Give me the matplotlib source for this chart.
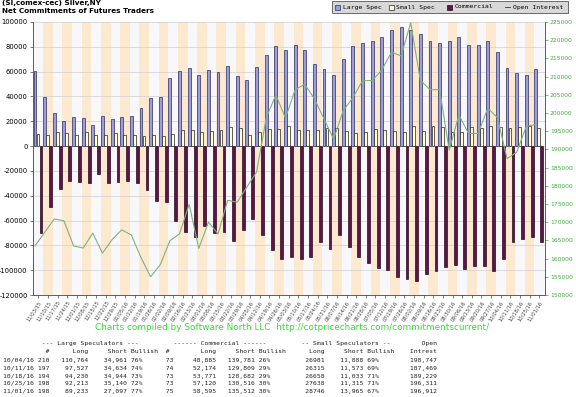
import numpy as np
import matplotlib
matplotlib.use("Agg")
import matplotlib.pyplot as plt
from matplotlib.patches import Rectangle
from matplotlib.lines import Line2D


# =========================
# DATA
# =========================
DATES = [
    "11/03/15", "11/10/15", "11/17/15", "11/24/15", "12/01/15", "12/08/15",
    "12/15/15", "12/22/15", "12/29/15", "01/05/16", "01/12/16", "01/19/16",
    "01/26/16", "02/02/16", "02/09/16", "02/16/16", "02/23/16", "03/01/16",
    "03/08/16", "03/15/16", "03/22/16", "03/29/16", "04/05/16", "04/12/16",
    "04/19/16", "04/26/16", "05/03/16", "05/10/16", "05/17/16", "05/24/16",
    "05/31/16", "06/07/16", "06/14/16", "06/21/16", "06/28/16", "07/05/16",
    "07/12/16", "07/19/16", "07/26/16", "08/02/16", "08/09/16", "08/16/16",
    "08/23/16", "08/30/16", "09/06/16", "09/13/16", "09/20/16", "09/27/16",
    "10/04/16", "10/11/16", "10/18/16", "10/25/16", "11/01/16",
]

LARGE_SPEC = [
    60500, 39500, 26800, 20600, 23300, 22800, 16800, 24600, 22200, 23300,
    23900, 30400, 39100, 39900, 54500, 60200, 63300, 57100, 61600, 59800,
    64700, 56100, 53300, 63600, 73100, 80400, 77200, 81500, 77500, 66000,
    62500, 57400, 70400, 80400, 83300, 84700, 87600, 93300, 96200, 93300,
    90500, 84700, 83300, 84700, 87600, 81800, 81800, 84700, 75803, 62893,
    59286, 57073, 62136,
]

SMALL_SPEC = [
    9500, 9000, 11400, 10600, 9200, 11400, 9200, 9200, 10600, 8600,
    9200, 8100, 8600, 8100, 10000, 12800, 13200, 11100, 12300, 13200,
    15600, 14800, 8900, 11100, 13900, 13900, 15900, 12800, 13100, 13100,
    14900, 14900, 12200, 10400, 11700, 13600, 13100, 12200, 11400, 16100,
    12200, 16100, 15500, 11700, 11700, 15500, 14200, 16300, 15093, 14742,
    15625, 16323, 14781,
]

COMMERCIAL = [
    -70000, -49100, -34700, -28200, -29000, -30100, -22800, -30100, -29000, -28200,
    -29600, -35500, -44200, -45000, -60700, -69600, -73500, -64500, -70200, -69400,
    -76100, -67500, -58800, -71800, -83500, -91000, -89700, -91000, -89700, -77500,
    -82900, -71300, -81600, -89700, -94600, -98300, -100000, -105400, -106800, -108700,
    -103200, -100500, -97800, -95700, -99200, -96500, -96500, -100500, -90896, -77635,
    -74911, -73396, -76917,
]

OPEN_INTEREST = [
    163500, 167200, 170900, 170400, 163500, 162900, 167000, 161500, 165200, 167900,
    166500, 160300, 155000, 158300, 164900, 166800, 174900, 162800, 170000, 166800,
    176000, 175500, 179700, 183800, 198600, 205000, 198600, 206400, 207900, 203900,
    198400, 192800, 200700, 204200, 208900, 208900, 211800, 216700, 215700, 224800,
    209000, 206400, 206400, 189800, 199500, 194400, 194400, 201300, 198747, 187469,
    189229, 196311, 196912,
]

# table under the chart
TABLE_DATES = ["10/04/16", "10/11/16", "10/18/16", "10/25/16", "11/01/16"]
LS_TRADERS = [210, 197, 194, 198, 198]
LS_LONG = [110764, 97527, 94230, 92213, 89233]
LS_SHORT = [34961, 34634, 34944, 35140, 27097]
LS_BULL = [76, 74, 73, 72, 77]
COMM_TRADERS = [73, 74, 73, 73, 75]
COMM_LONG = [48885, 52174, 53771, 57120, 58595]
COMM_SHORT = [139781, 129809, 128682, 130516, 135512]
COMM_BULL = [26, 29, 29, 30, 30]
SS_LONG = [26981, 26315, 26658, 27638, 28746]
SS_SHORT = [11888, 11573, 11033, 11315, 13965]
SS_BULL = [69, 69, 71, 71, 67]
OI_TABLE = [198747, 187469, 189229, 196311, 196912]

# colours
LS_FILL, LS_EDGE = "#9d9ddc", "#2c2c5c"
SS_FILL, SS_EDGE = "#ffffd2", "#222222"
COMM_FILL, COMM_EDGE = "#5c1545", "#2a0820"
OI_COLOUR = "#7db37d"
STRIPE_A, STRIPE_B = "#f8f8fb", "#fde9cf"
GREEN_TEXT = "#33dd33"

W, H = 576, 397


def fx(px):
    return px / W


def fy(py):
    return 1 - py / H


def place(buf, text, end=None, start=None):
    if start is None:
        start = end - len(text) + 1
    for k, ch in enumerate(text):
        buf[start + k] = ch


fig = plt.figure(figsize=(W / 100, H / 100), dpi=100)
fig.patch.set_facecolor("white")

ax = fig.add_axes([fx(32.5), fy(295), fx(545) - fx(32.5), fy(22) - fy(295)])
n = len(DATES)
x = np.arange(n)

ax.set_facecolor(STRIPE_A)
for i in range(1, n, 2):
    ax.axvspan(i, i + 1, color=STRIPE_B, lw=0, zorder=0)
ax.set_axisbelow(True)
ax.yaxis.grid(True, color="#cfcfcf", lw=0.5)

bw = 0.3
ax.bar(x + 0.16, LARGE_SPEC, width=bw, color=LS_FILL, edgecolor=LS_EDGE, lw=0.5, zorder=2)
ax.bar(x + 0.47, SMALL_SPEC, width=bw, color=SS_FILL, edgecolor=SS_EDGE, lw=0.5, zorder=2)
ax.bar(x + 0.78, COMMERCIAL, width=bw, color=COMM_FILL, edgecolor=COMM_EDGE, lw=0.5, zorder=2)

ax.set_xlim(-0.1, n + 0.1)
ax.set_ylim(-120000, 100000)
yt = list(range(-120000, 100001, 20000))
ax.set_yticks(yt)
ax.set_yticklabels([str(v) for v in yt], fontsize=4.9)
ax.set_xticks(x + 0.5)
ax.set_xticklabels(DATES, rotation=57, ha="right", rotation_mode="anchor",
                   fontsize=3.7, color="#444444")
ax.tick_params(axis="both", length=2, width=0.5, pad=1.5, colors="#444444")
ax.tick_params(axis="y", labelcolor="black")
for s in ["top", "right"]:
    ax.spines[s].set_visible(False)
for s in ["left", "bottom"]:
    ax.spines[s].set_color("#444444")
    ax.spines[s].set_linewidth(0.6)

ax2 = ax.twinx()
ax2.plot(x + 0.16, OPEN_INTEREST, color=OI_COLOUR, lw=0.8, zorder=5)
ax2.set_ylim(150000, 225000)
yt2 = list(range(150000, 225001, 5000))
ax2.set_yticks(yt2)
ax2.set_yticklabels([str(v) for v in yt2], fontsize=4.3, color="#44aa44")
ax2.tick_params(axis="y", length=2, width=0.5, pad=1.5, colors="#44aa44")
for s in ["top", "left", "bottom"]:
    ax2.spines[s].set_visible(False)
ax2.spines["right"].set_color("#444444")
ax2.spines["right"].set_linewidth(0.6)

# titles
fig.text(fx(2), fy(0.3), "(SI,comex-cec) Silver,NY", fontsize=5.2,
         fontweight="bold", va="top", ha="left")
fig.text(fx(2), fy(8.3), "Net Commitments of Futures Traders", fontsize=5.2,
         fontweight="bold", va="top", ha="left")

# legend box
fig.patches.append(Rectangle((fx(331.5), fy(13)), fx(568) - fx(331.5), fy(1) - fy(13),
                             transform=fig.transFigure, facecolor="#d8d8d8",
                             edgecolor="#555555", lw=0.6))
mono = dict(family="DejaVu Sans Mono", fontsize=4.6, va="center", ha="left")
legend_items = [
    (335, LS_FILL, LS_EDGE, "Large Spec", 343),
    (389, SS_FILL, SS_EDGE, "Small Spec", 396),
    (447, COMM_FILL, COMM_EDGE, "Commercial", 455),
]
for sx, fc, ec, label, tx in legend_items:
    fig.patches.append(Rectangle((fx(sx), fy(9.5)), fx(4.5), fy(5) - fy(9.5),
                                 transform=fig.transFigure, facecolor=fc,
                                 edgecolor=ec, lw=0.5))
    fig.text(fx(tx), fy(7), label, **mono)
fig.lines.append(Line2D([fx(505), fx(510)], [fy(7), fy(7)], transform=fig.transFigure,
                        color="#333333", lw=0.6))
fig.text(fx(513), fy(7), "Open Interest", **mono)

# credit line
fig.text(fx(95), fy(328), "Charts compiled by Software North LLC  "
         "http://cotpricecharts.com/commitmentscurrent/",
         fontsize=6.4, color=GREEN_TEXT, va="center", ha="left")

# table
width = 112
h1 = [" "] * width
place(h1, "--- Large Speculators ---", start=10)
place(h1, "------ Commercial ------", start=44)
place(h1, "-- Small Speculators --", start=77)
place(h1, "Open", end=111)
h2 = [" "] * width
place(h2, "#", end=11)
place(h2, "Long", end=21)
place(h2, "Short", end=31)
place(h2, "Bullish", start=33)
place(h2, "#", end=42)
place(h2, "Long", end=54)
place(h2, "Short", end=64)
place(h2, "Bullish", start=66)
place(h2, "Long", end=82)
place(h2, "Short", end=92)
place(h2, "Bullish", start=94)
place(h2, "Intrest", end=111)
lines = ["".join(h1), "".join(h2)]
for i in range(len(TABLE_DATES)):
    b = [" "] * width
    place(b, TABLE_DATES[i], start=0)
    place(b, str(LS_TRADERS[i]), end=11)
    place(b, f"{LS_LONG[i]:,}", end=21)
    place(b, f"{LS_SHORT[i]:,}", end=31)
    place(b, f"{LS_BULL[i]}%", start=33)
    place(b, str(COMM_TRADERS[i]), end=43)
    place(b, f"{COMM_LONG[i]:,}", end=54)
    place(b, f"{COMM_SHORT[i]:,}", end=64)
    place(b, f"{COMM_BULL[i]}%", start=66)
    place(b, str(SS_LONG[i]), end=82)
    place(b, f"{SS_SHORT[i]:,}", end=92)
    place(b, f"{SS_BULL[i]}%", start=94)
    place(b, f"{OI_TABLE[i]:,}", end=111)
    lines.append("".join(b))

row_y = [344, 352, 360.5, 368.3, 376.1, 383.9, 391.7]
for ln, yy in zip(lines, row_y):
    fig.text(fx(3), fy(yy), ln, family="DejaVu Sans Mono", fontsize=4.6,
             va="center", ha="left", color="#222222")

fig.savefig("out.png", dpi=100)
plt.close(fig)
